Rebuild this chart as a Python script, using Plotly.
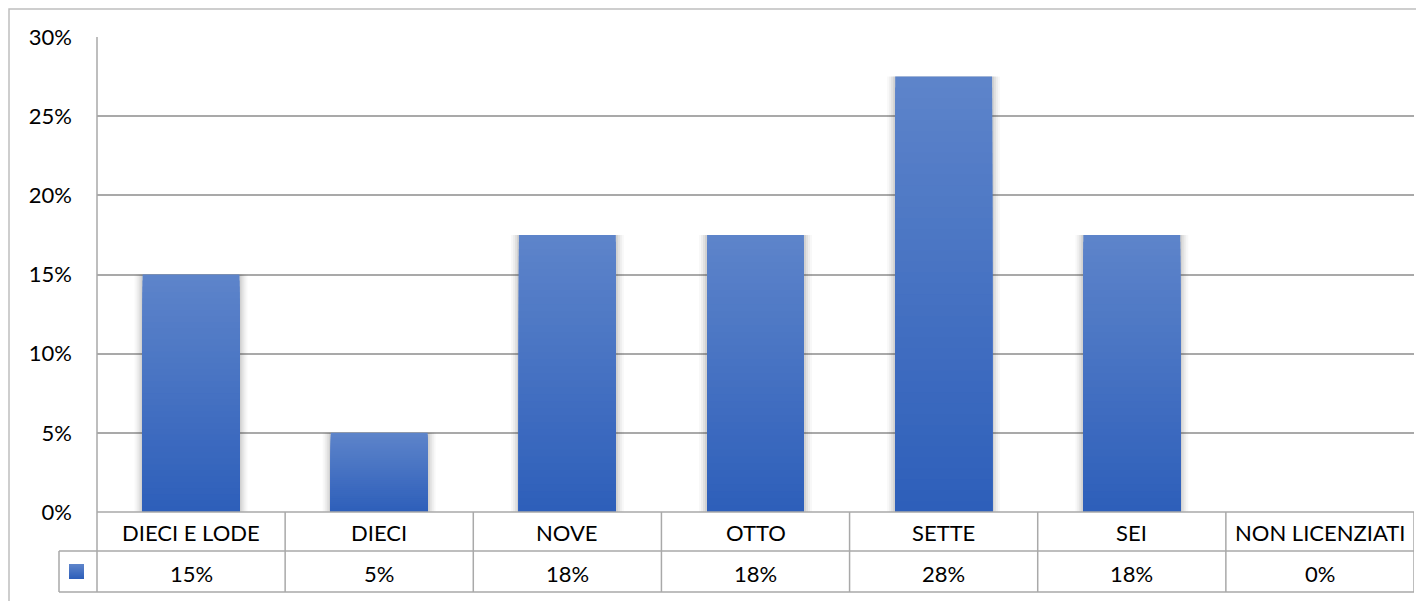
import plotly.graph_objects as go

categories = ["DIECI E LODE", "DIECI", "NOVE", "OTTO", "SETTE", "SEI", "NON LICENZIATI"]
values = [0.15, 0.05, 0.175, 0.175, 0.275, 0.175, 0.0]
value_labels = ["15%", "5%", "18%", "18%", "28%", "18%", "0%"]
y_ticks = [0, 0.05, 0.10, 0.15, 0.20, 0.25, 0.30]
y_tick_labels = ["0%", "5%", "10%", "15%", "20%", "25%", "30%"]

OFF = 8  # page body margin
W, H = 1424 - OFF, 601 - OFF
L, T = 97 - OFF, 37 - OFF
R = W - (1414 - OFF)
B = H - (512 - OFF)
PW, PH = W - L - R, H - T - B
FONT = "Lato"
FS = 22
GRID = "#A9A9A9"

def px_x(p):
    return (p - OFF - L) / PW

def px_y(p):
    return (H - B - (p - OFF)) / PH

top_rgb = (93, 132, 202)
bot_rgb = (46, 95, 186)
BAR_W = 0.515
N = 40

x_idx = list(range(len(categories)))
fig = go.Figure()

# soft shadow
for k, a in [(8, 0.035), (6, 0.05), (4, 0.07), (2, 0.09)]:
    fig.add_trace(go.Bar(
        x=x_idx, y=values, width=BAR_W + 2 * k / (PW / len(categories)),
        marker=dict(color=f"rgba(60,60,60,{a})", line=dict(width=0)),
        hoverinfo="skip", showlegend=False))

# gradient bars
for k in range(N):
    f = k / (N - 1)
    c = tuple(round(top_rgb[i] + (bot_rgb[i] - top_rgb[i]) * f) for i in range(3))
    frac = (N - k) / N
    fig.add_trace(go.Bar(
        x=x_idx, y=[v * frac for v in values], width=BAR_W,
        marker=dict(color=f"rgb{c}", line=dict(width=0)),
        hoverinfo="skip", showlegend=False))

fig.update_layout(
    width=W, height=H, barmode="overlay",
    margin=dict(l=L, r=R, t=T, b=B, pad=0),
    paper_bgcolor="white", plot_bgcolor="white",
    font=dict(family=FONT, size=FS, color="#000000"),
    showlegend=False,
    xaxis=dict(range=[-0.5, len(categories) - 0.5], showticklabels=False,
               showgrid=False, zeroline=False, showline=False, fixedrange=True),
    yaxis=dict(range=[0, 0.30], tickvals=y_ticks, ticktext=y_tick_labels,
               showgrid=True, gridcolor=GRID, gridwidth=1.5, zeroline=False,
               showline=False, ticks="", ticklabelstandoff=24,
               tickfont=dict(family=FONT, size=FS, color="#000")),
)

shapes = []
row1_bot = px_y(551)
row2_bot = px_y(592)
# outer chart border
shapes.append(dict(type="rect", xref="paper", yref="paper",
                   x0=px_x(9), x1=px_x(1423), y0=px_y(640), y1=px_y(9),
                   line=dict(color="#BFBFBF", width=1.5), layer="above"))
# left vertical axis line through table
shapes.append(dict(type="line", xref="paper", yref="paper",
                   x0=0, x1=0, y0=row2_bot, y1=1, line=dict(color=GRID, width=1.5)))
# table horizontal lines
shapes.append(dict(type="line", xref="paper", yref="paper", x0=0, x1=1, y0=0, y1=0,
                   line=dict(color=GRID, width=1.5)))
shapes.append(dict(type="line", xref="paper", yref="paper", x0=px_x(59), x1=1,
                   y0=row1_bot, y1=row1_bot, line=dict(color=GRID, width=1.5)))
shapes.append(dict(type="line", xref="paper", yref="paper", x0=px_x(59), x1=1,
                   y0=row2_bot, y1=row2_bot, line=dict(color=GRID, width=1.5)))
shapes.append(dict(type="line", xref="paper", yref="paper", x0=px_x(59), x1=px_x(59),
                   y0=row2_bot, y1=row1_bot, line=dict(color=GRID, width=1.5)))
# column separators
for i in x_idx:
    xr = i + 0.5
    shapes.append(dict(type="line", xref="x", yref="paper", x0=xr, x1=xr,
                       y0=row2_bot, y1=0, line=dict(color=GRID, width=1.5)))

# legend key gradient square (overlapping rects, no seams)
NK = 15
for k in range(NK):
    f = k / (NK - 1)
    c = tuple(round(top_rgb[i] + (bot_rgb[i] - top_rgb[i]) * f) for i in range(3))
    shapes.append(dict(type="rect", xref="paper", yref="paper",
                       x0=px_x(69), x1=px_x(84),
                       y0=px_y(579), y1=px_y(564 + 15 * k / NK),
                       fillcolor=f"rgb{c}", line=dict(width=0)))
fig.update_layout(shapes=shapes)

annotations = []
for i, (cat, lab) in enumerate(zip(categories, value_labels)):
    annotations.append(dict(x=i, y=px_y(532), xref="x", yref="paper", text=cat,
                            showarrow=False, xanchor="center", yanchor="middle",
                            font=dict(family=FONT, size=FS, color="#000")))
    annotations.append(dict(x=i, y=px_y(573), xref="x", yref="paper", text=lab,
                            showarrow=False, xanchor="center", yanchor="middle",
                            font=dict(family=FONT, size=FS, color="#000")))
fig.update_layout(annotations=annotations)

fig.write_html("out.html")
